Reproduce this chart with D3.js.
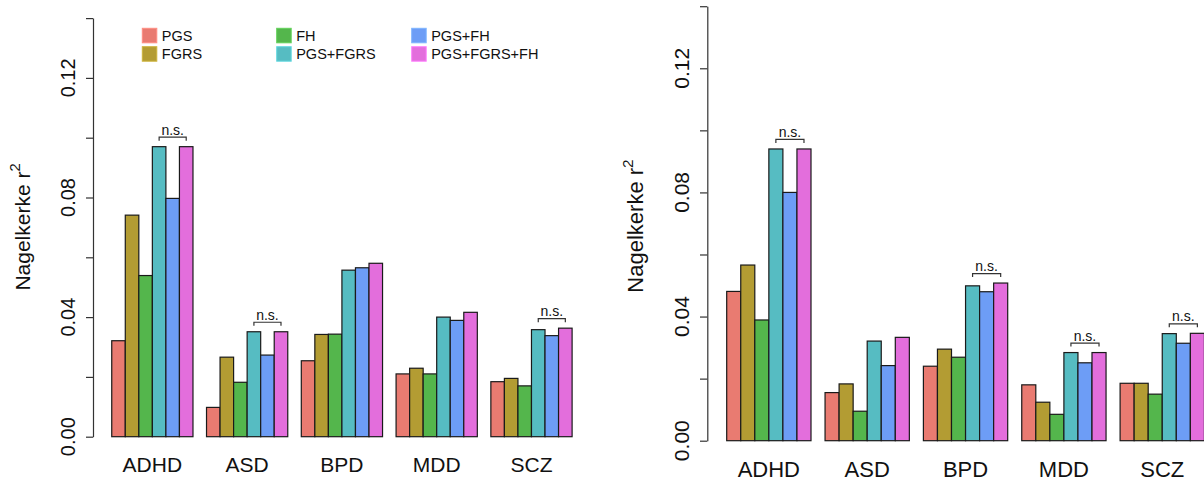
<!DOCTYPE html>
<html>
<head>
<meta charset="utf-8">
<script src="https://cdn.jsdelivr.net/npm/d3@7"></script>
<style>
  html, body { margin: 0; padding: 0; background: #fff; }
  svg { display: block; font-family: "Liberation Sans", Arial, Helvetica, sans-serif; }
</style>
</head>
<body>
<svg id="chart" width="1204" height="483"></svg>
<script>
// Disorders on the x axis and the six prediction models
const categories = ["ADHD", "ASD", "BPD", "MDD", "SCZ"];
const models = ["PGS", "FGRS", "FH", "PGS+FGRS", "PGS+FH", "PGS+FGRS+FH"];
const modelColors = ["#E97B71", "#B39C33", "#54B64C", "#56BCC2", "#6D9DF6", "#E36EDC"];

// Nagelkerke r² per model, left panel (one value per disorder)
const leftPGS        = [0.0321, 0.0098, 0.0254, 0.0210, 0.0184];
const leftFGRS       = [0.0741, 0.0266, 0.0342, 0.0229, 0.0195];
const leftFH         = [0.0539, 0.0182, 0.0343, 0.0210, 0.0170];
const leftPGSFGRS    = [0.0970, 0.0351, 0.0557, 0.0400, 0.0358];
const leftPGSFH      = [0.0797, 0.0273, 0.0565, 0.0389, 0.0338];
const leftPGSFGRSFH  = [0.0970, 0.0351, 0.0580, 0.0416, 0.0363];

// Nagelkerke r² per model, right panel
const rightPGS       = [0.0481, 0.0155, 0.0240, 0.0180, 0.0185];
const rightFGRS      = [0.0566, 0.0183, 0.0295, 0.0124, 0.0185];
const rightFH        = [0.0389, 0.0095, 0.0269, 0.0085, 0.0150];
const rightPGSFGRS   = [0.0940, 0.0321, 0.0499, 0.0284, 0.0345];
const rightPGSFH     = [0.0800, 0.0242, 0.0480, 0.0251, 0.0314];
const rightPGSFGRSFH = [0.0940, 0.0333, 0.0508, 0.0284, 0.0346];

// Disorders where PGS+FGRS vs PGS+FGRS+FH is marked non-significant
const leftNS = ["ADHD", "ASD", "SCZ"];
const rightNS = ["ADHD", "BPD", "MDD", "SCZ"];

// Axis ticks
const yTicks = [0, 0.02, 0.04, 0.06, 0.08, 0.10, 0.12, 0.14];
const yTickLabels = [0, 0.04, 0.08, 0.12];

const svg = d3.select("#chart");
const axisColor = "#333";

function drawPanel(cfg) {
  const series = cfg.series;
  const g = svg.append("g");

  // Bar slots: each disorder group takes one gap unit plus six bar units
  const x = d3.scaleLinear().domain([0, 35]).range(cfg.xRange);
  const y = d3.scaleLinear().domain([0, 0.14]).range(cfg.yRange);
  const unit = x(1) - x(0);

  const bars = [];
  categories.forEach((cat, ci) => {
    models.forEach((m, mi) => {
      bars.push({ cat, ci, mi, value: series[mi][ci], slot: 1 + 7 * ci + mi });
    });
  });

  g.selectAll("rect.bar")
    .data(bars)
    .join("rect")
    .attr("class", "bar")
    .attr("x", d => x(d.slot))
    .attr("y", d => y(d.value))
    .attr("width", unit)
    .attr("height", d => y(0) - y(d.value))
    .attr("fill", d => modelColors[d.mi])
    .attr("stroke", "#1a1a1a")
    .attr("stroke-width", 1.2);

  // Y axis with ticks every 0.02
  const axis = d3.axisLeft(y)
    .tickValues(yTicks)
    .tickSize(cfg.tickLen)
    .tickSizeOuter(0)
    .tickFormat("");
  const ag = g.append("g")
    .attr("transform", `translate(${cfg.axisX},0)`)
    .call(axis);
  ag.select(".domain").attr("stroke", axisColor).attr("stroke-width", 1.2);
  ag.selectAll(".tick line").attr("stroke", axisColor).attr("stroke-width", 1.2);

  // Rotated tick labels
  g.selectAll("text.ytick")
    .data(yTickLabels)
    .join("text")
    .attr("class", "ytick")
    .attr("transform", d => `translate(${cfg.tickLabelX},${y(d)}) rotate(-90)`)
    .attr("text-anchor", "middle")
    .attr("font-size", cfg.tickFont)
    .attr("fill", "#111")
    .text(d => d3.format(".2f")(d));

  // Y title with superscript
  const title = g.append("text")
    .attr("transform", `translate(${cfg.titleX},${cfg.titleY}) rotate(-90)`)
    .attr("text-anchor", "middle")
    .attr("font-size", cfg.titleFont)
    .attr("fill", "#111");
  title.append("tspan").text("Nagelkerke r");
  title.append("tspan")
    .attr("dy", -cfg.titleFont * 0.45)
    .attr("font-size", cfg.titleFont * 0.7)
    .text("2");

  // Disorder labels under each group
  g.selectAll("text.cat")
    .data(categories)
    .join("text")
    .attr("class", "cat")
    .attr("x", (d, i) => x(1 + 7 * i + 3))
    .attr("y", cfg.catY)
    .attr("text-anchor", "middle")
    .attr("font-size", cfg.catFont)
    .attr("fill", "#111")
    .text(d => d);

  // n.s. brackets joining PGS+FGRS and PGS+FGRS+FH
  const nsData = cfg.ns.map(cat => {
    const ci = categories.indexOf(cat);
    const top = Math.max(series[3][ci], series[5][ci]);
    return {
      x1: x(1 + 7 * ci + 3) + unit / 2,
      x2: x(1 + 7 * ci + 5) + unit / 2,
      yb: y(top) - 9.5
    };
  });
  const ns = g.selectAll("g.ns").data(nsData).join("g").attr("class", "ns");
  ns.append("path")
    .attr("d", d => `M${d.x1},${d.yb + 3.5}V${d.yb}H${d.x2}V${d.yb + 3.5}`)
    .attr("fill", "none")
    .attr("stroke", "#333")
    .attr("stroke-width", 1.2);
  ns.append("text")
    .attr("x", d => (d.x1 + d.x2) / 2)
    .attr("y", d => d.yb - 2.5)
    .attr("text-anchor", "middle")
    .attr("font-size", 14)
    .attr("fill", "#111")
    .text("n.s.");
}

drawPanel({
  series: [leftPGS, leftFGRS, leftFH, leftPGSFGRS, leftPGSFH, leftPGSFGRSFH],
  ns: leftNS,
  xRange: [98.2, 98.2 + 35 * 13.54],
  yRange: [436.7, 436.7 - 0.14 * 2990],
  axisX: 93,
  tickLen: 7,
  tickLabelX: 75,
  tickFont: 20,
  titleX: 29.5,
  titleY: 227,
  titleFont: 21,
  catY: 471.5,
  catFont: 21
});

drawPanel({
  series: [rightPGS, rightFGRS, rightFH, rightPGSFGRS, rightPGSFH, rightPGSFGRSFH],
  ns: rightNS,
  xRange: [712.65, 712.65 + 35 * 14.05],
  yRange: [440.7, 440.7 - 0.14 * 3103.5],
  axisX: 707.3,
  tickLen: 7.3,
  tickLabelX: 689.3,
  tickFont: 21,
  titleX: 642.7,
  titleY: 226,
  titleFont: 22,
  catY: 476.5,
  catFont: 22
});

// Legend: three columns of two entries, above the left panel
const legendCols = [142.3, 276.7, 411.7];
const legendRows = [28.3, 46.7];
const legend = svg.append("g");
models.forEach((m, i) => {
  const cx = legendCols[Math.floor(i / 2)];
  const cy = legendRows[i % 2];
  legend.append("rect")
    .attr("x", cx).attr("y", cy)
    .attr("width", 14.5).attr("height", 14.5)
    .attr("fill", modelColors[i])
    .attr("stroke", d3.color(modelColors[i]).brighter(0.4))
    .attr("stroke-width", 1);
  legend.append("text")
    .attr("x", cx + 19.5)
    .attr("y", cy + 7.25)
    .attr("dy", "0.36em")
    .attr("font-size", 14.5)
    .attr("fill", "#111")
    .text(m);
});
</script>
</body>
</html>
